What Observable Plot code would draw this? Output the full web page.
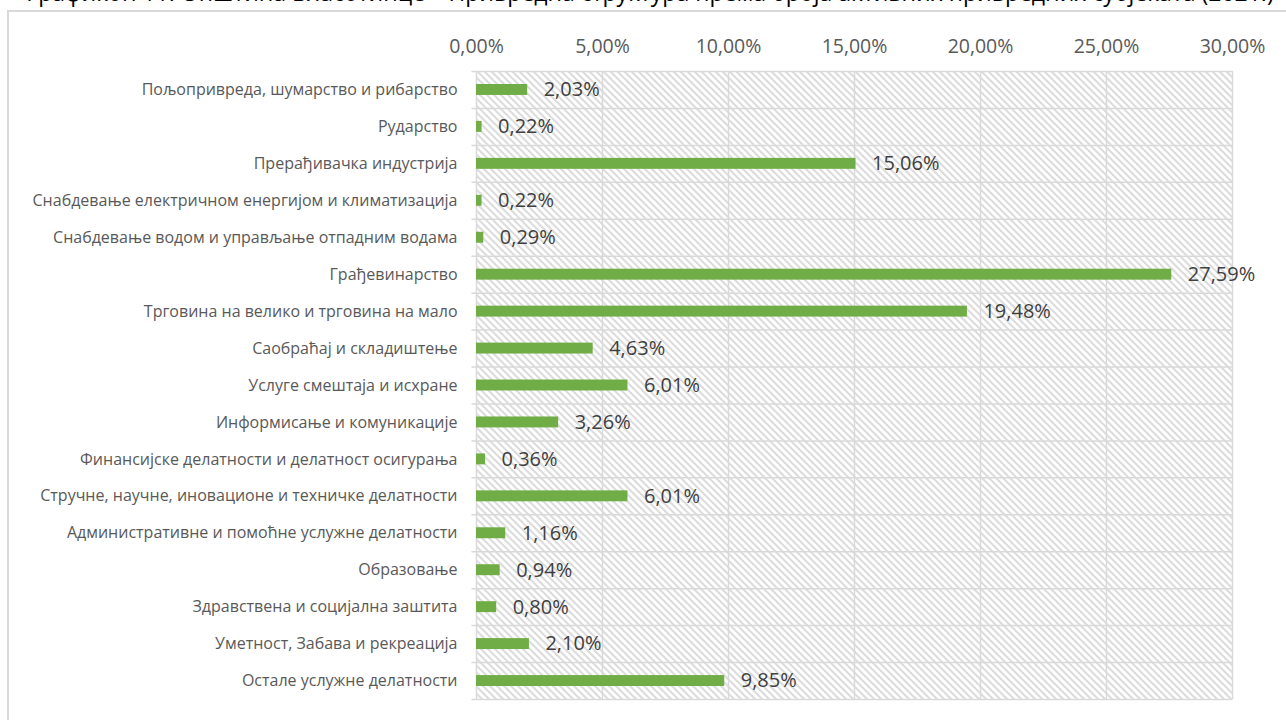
<!DOCTYPE html>
<html><head><meta charset="utf-8">
<script src="https://cdn.jsdelivr.net/npm/d3@7"></script>
<script src="https://cdn.jsdelivr.net/npm/@observablehq/plot@0.6"></script>
<style>
html,body{margin:0;padding:0;background:#fff;}
body{overflow:hidden;width:1286px;height:720px;position:relative;font-family:"Open Sans",sans-serif;}
#title{position:absolute;left:0;width:1300px;text-align:center;top:-23px;font-size:23px;color:#000;white-space:nowrap;line-height:30px;}
#frame{position:absolute;left:7px;top:10px;width:1400px;height:800px;border:2px solid #d9d9d9;box-sizing:border-box;}
#chart{position:absolute;left:0;top:0;}
</style></head><body>
<div id="frame"></div>
<div id="title">Графикон 11. Општина Власотинце – Привредна структура према броја активних привредних субјеката (2021.)</div>
<div id="chart"></div>
<script>
const categories = [
  "Пољопривреда, шумарство и рибарство",
  "Рударство",
  "Прерађивачка индустрија",
  "Снабдевање електричном енергијом и климатизација",
  "Снабдевање водом и управљање отпадним водама",
  "Грађевинарство",
  "Трговина на велико и трговина на мало",
  "Саобраћај и складиштење",
  "Услуге смештаја и исхране",
  "Информисање и комуникације",
  "Финансијске делатности и делатност осигурања",
  "Стручне, научне, иновационе и техничке делатности",
  "Административне и помоћне услужне делатности",
  "Образовање",
  "Здравствена и социјална заштита",
  "Уметност, Забава и рекреација",
  "Остале услужне делатности"
];
const values = [2.03, 0.22, 15.06, 0.22, 0.29, 27.59, 19.48, 4.63, 6.01, 3.26, 0.36, 6.01, 1.16, 0.94, 0.80, 2.10, 9.85];
const xTicks = [0, 5, 10, 15, 20, 25, 30];

const fmt = v => v.toFixed(2).replace(".", ",") + "%";
const data = categories.map((c, i) => ({category: c, value: values[i], label: fmt(values[i])}));

const W = 1286, H = 720, mT = 71, mB = 21, mL = 476, mR = 54;
const bw = (H - mT - mB) / categories.length;
const grid = "#d9d9d9";

const chart = Plot.plot({
  width: W, height: H,
  marginTop: mT, marginBottom: mB, marginLeft: mL, marginRight: mR,
  style: {fontFamily: "'Open Sans', sans-serif", background: "transparent", overflow: "visible"},
  x: {domain: [0, 30], axis: null},
  y: {domain: categories, padding: 0, round: false, axis: null},
  marks: [
    Plot.barX(data, {y: "category", x1: 0, x2: 30, fill: "url(#hatch)"}),
    Plot.ruleX(xTicks, {stroke: grid, strokeWidth: 1.5}),
    Plot.link(data, {x1: -0.2, x2: 30, y1: "category", y2: "category", dy: -bw / 2, stroke: grid, strokeWidth: 1.5}),
    Plot.link(data.slice(-1), {x1: -0.2, x2: 30, y1: "category", y2: "category", dy: bw / 2, stroke: grid, strokeWidth: 1.5}),
    Plot.barX(data, {y: "category", x: "value", fill: "#70AD47", insetTop: 13, insetBottom: 13}),
    Plot.text(data, {y: "category", x: "value", text: "label", textAnchor: "start", dx: 16, fontSize: 20, fill: "#404040"}),
    Plot.axisX(xTicks, {anchor: "top", tickSize: 0, tickPadding: 19, tickFormat: fmt, fontSize: 19.5, color: "#595959", label: null}),
    Plot.axisY({tickSize: 0, tickPadding: 19, fontSize: 16, color: "#595959", label: null})
  ]
});

d3.select(chart).insert("defs", ":first-child").html(
  `<pattern id="hatch" patternUnits="userSpaceOnUse" width="7" height="7">
     <rect width="7" height="7" fill="#ffffff"/>
     <path d="M-1,-1 L8,8 M-1,6 L1,8 M6,-1 L8,1" stroke="#dcdcdc" stroke-width="2"/>
   </pattern>`
);
document.getElementById("chart").append(chart);
</script>
</body></html>
